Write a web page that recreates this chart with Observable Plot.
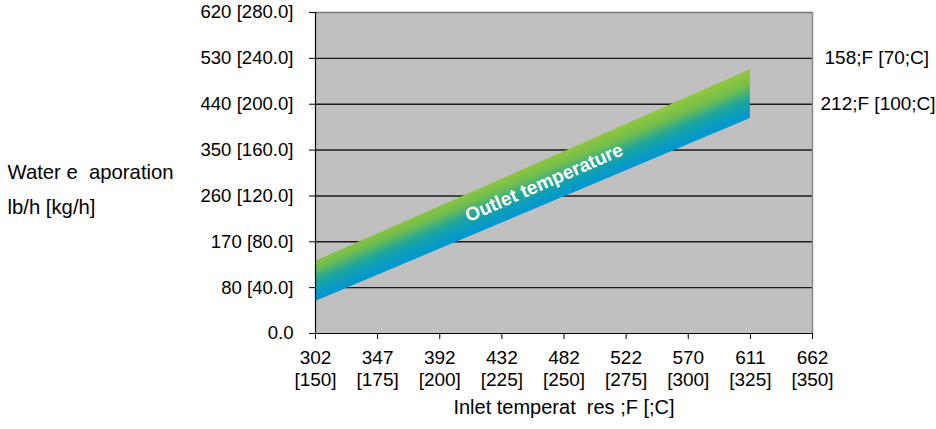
<!DOCTYPE html>
<html>
<head>
<meta charset="utf-8">
<script src="https://cdn.jsdelivr.net/npm/d3@7"></script>
<script src="https://cdn.jsdelivr.net/npm/@observablehq/plot@0.6"></script>
<style>
  html, body { margin: 0; padding: 0; background: #fff; }
</style>
</head>
<body>
<div id="chart"></div>
<script>
// Data
const inletC = [150, 325];                 // inlet temperature °C
const evapLow = [28, 187.5];               // lower band edge, kg/h
const evapHigh = [63, 230];                // upper band edge, kg/h

const xTicksC = [150, 175, 200, 225, 250, 275, 300, 325, 350];
const xTicksF = ["302", "347", "392", "432", "482", "522", "570", "611", "662"];
const yTicksKg = [0, 40, 80, 120, 160, 200, 240, 280];
const yTicksLb = ["0.0", "80", "170", "260", "350", "440", "530", "620"];

const rightLabels = [
  {y: 240, text: "158;F [70;C]", dx: 12},
  {y: 200, text: "212;F [100;C]", dx: 8}
];

const band = inletC.map((c, i) => ({c, low: evapLow[i], high: evapHigh[i]}));

const fontFamily = "'Liberation Sans', Arial, Helvetica, sans-serif";
const fs = 18.6;

const chart = Plot.plot({
  width: 936,
  height: 429,
  marginLeft: 315,
  marginRight: 124,
  marginTop: 12,
  marginBottom: 96,
  style: {fontFamily, fontSize: fs + "px", color: "#000", background: "#fff", overflow: "visible"},
  x: {domain: [150, 350]},
  y: {domain: [0, 280]},
  marks: [
    Plot.frame({fill: "#c0c0c0", stroke: null}),
    Plot.ruleY(yTicksKg.slice(1, -1), {stroke: "#1a1a1a", strokeWidth: 1.4}),
    Plot.areaY(band, {x: "c", y1: "low", y2: "high", fill: "url(#bandGrad)"}),
    Plot.text(["Outlet temperature"], {
      x: [242], y: [131.5], text: d => d, rotate: -23.5,
      fill: "white", fontWeight: "bold", fontSize: 19
    }),
    Plot.ruleY([280], {stroke: "#7a7a7a", strokeWidth: 1.5}),
    Plot.ruleX([350], {stroke: "#8a8a8a", strokeWidth: 1.5}),
    Plot.ruleX([150], {stroke: "#000", strokeWidth: 1.2}),
    Plot.ruleY([0], {stroke: "#000", strokeWidth: 1.2}),
    Plot.axisY({
      ticks: yTicksKg, tickSize: 6, tickPadding: 16, fontSize: fs,
      tickFormat: d => d === 0 ? yTicksLb[0] : `${yTicksLb[yTicksKg.indexOf(d)]} [${d.toFixed(1)}]`,
      label: null
    }),
    Plot.axisX({
      ticks: xTicksC, tickSize: 6, tickPadding: 9, fontSize: 19, lineHeight: 1.16,
      tickFormat: d => `${xTicksF[xTicksC.indexOf(d)]}\n[${d}]`,
      label: null
    }),
    Plot.text(rightLabels, {
      x: 350, y: "y", text: "text", textAnchor: "start", fontSize: 19
    }),
    Plot.text(["Water e  aporation"], {frameAnchor: "left", dx: -308, dy: -0.5, textAnchor: "start", fontSize: 20.3}),
    Plot.text(["lb/h [kg/h]"], {frameAnchor: "left", dx: -308, dy: 34.5, textAnchor: "start", fontSize: 20.3}),
    Plot.text(["Inlet temperat  res ;F [;C]"], {frameAnchor: "bottom", dy: 80, fontSize: 20})
  ]
});

const sx = chart.scale("x").apply;
const sy = chart.scale("y").apply;

// gradient perpendicular to the band, computed from the scales
const midC = (inletC[0] + inletC[1]) / 2;
const topY = (evapHigh[0] + evapHigh[1]) / 2;
const P = [sx(midC), sy(topY)];
const A = [sx(inletC[0]), sy(evapLow[0])];
const B = [sx(inletC[1]), sy(evapLow[1])];
const dx = B[0] - A[0], dy = B[1] - A[1];
const u = ((P[0] - A[0]) * dx + (P[1] - A[1]) * dy) / (dx * dx + dy * dy);
const Q = [A[0] + u * dx, A[1] + u * dy];

const ns = "http://www.w3.org/2000/svg";
const defs = document.createElementNS(ns, "defs");
const grad = document.createElementNS(ns, "linearGradient");
grad.setAttribute("id", "bandGrad");
grad.setAttribute("gradientUnits", "userSpaceOnUse");
grad.setAttribute("x1", P[0]); grad.setAttribute("y1", P[1]);
grad.setAttribute("x2", Q[0]); grad.setAttribute("y2", Q[1]);
[[0, "#8dc63f"], [0.25, "#72bd4f"], [0.55, "#1fa79a"], [0.8, "#0a9cc0"], [1, "#0096d2"]].forEach(([o, c]) => {
  const s = document.createElementNS(ns, "stop");
  s.setAttribute("offset", o);
  s.setAttribute("stop-color", c);
  grad.appendChild(s);
});
defs.appendChild(grad);
chart.insertBefore(defs, chart.firstChild);

// enforce axis label font sizes
chart.querySelectorAll("g[aria-label='y-axis tick label']").forEach(g => {
  g.setAttribute("font-size", fs);
  g.style.fontSize = fs + "px";
  g.querySelectorAll("text").forEach(t => { t.style.fontSize = fs + "px"; });
});
chart.querySelectorAll("g[aria-label='x-axis tick label']").forEach(g => {
  g.setAttribute("font-size", 19);
  g.style.fontSize = "19px";
});

// per-label horizontal offsets for right-hand labels
chart.querySelectorAll("g[aria-label='text'] text").forEach(tx => {
  const r = rightLabels.find(r => r.text === tx.textContent);
  if (r) tx.setAttribute("dx", r.dx);
});

document.getElementById("chart").appendChild(chart);
</script>
</body>
</html>
